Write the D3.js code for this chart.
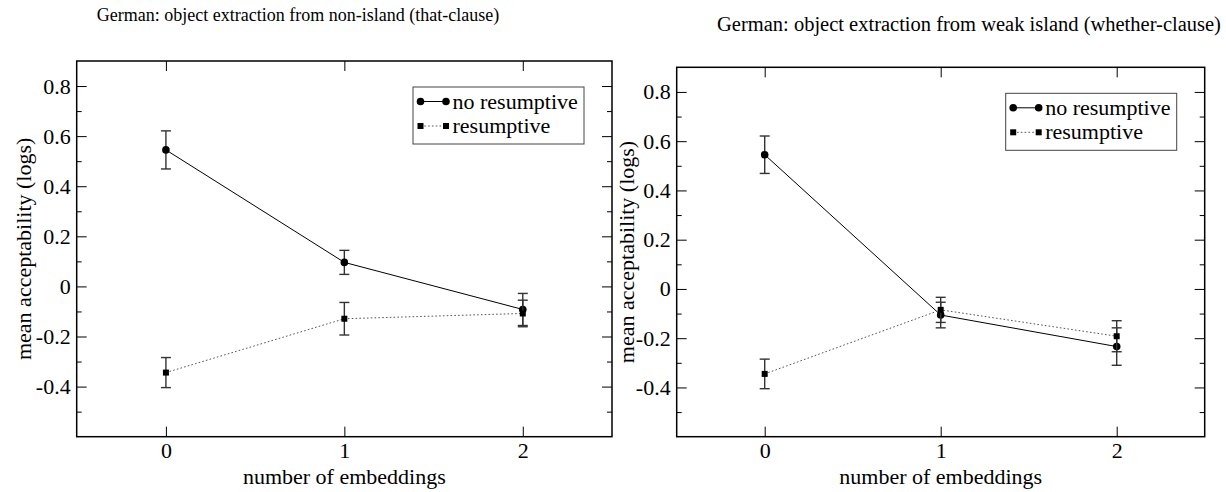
<!DOCTYPE html>
<html>
<head>
<meta charset="utf-8">
<script src="https://cdn.jsdelivr.net/npm/d3@7"></script>
<style>
  body { margin: 0; background: #fff; }
  svg text { font-family: "Liberation Serif", "Times New Roman", serif; fill: #000; }
</style>
</head>
<body>
<svg id="chart" width="1226" height="492"></svg>
<script>
"use strict";

// ---- data ----
var embeddings = [0, 1, 2];
var xTickValues = [0, 1, 2];
var yTickValues = [-0.4, -0.2, 0, 0.2, 0.4, 0.6, 0.8];
var yMinorValues = [-0.5, -0.3, -0.1, 0.1, 0.3, 0.5, 0.7];
var yTickLabels = ["-0.4", "-0.2", "0", "0.2", "0.4", "0.6", "0.8"];
var seriesNames = ["no resumptive", "resumptive"];

var titleLeft = "German: object extraction from non-island (that-clause)";
var noResLeft = [0.545, 0.096, -0.092];
var noResLeftErr = [0.076, 0.048, 0.064];
var resLeft = [-0.344, -0.129, -0.108];
var resLeftErr = [0.060, 0.065, 0.053];

var titleRight = "German: object extraction from weak island (whether-clause)";
var noResRight = [0.545, -0.106, -0.234];
var noResRightErr = [0.076, 0.052, 0.076];
var resRight = [-0.345, -0.085, -0.192];
var resRightErr = [0.060, 0.051, 0.063];

// ---- layout ----
var svg = d3.select("#chart");
var fontSize = 22;
var serif = '"Liberation Serif", "Times New Roman", serif';

var panels = [
	{ title: titleLeft, titleX: 298, titleY: 21, titleSize: 18,
	  left: 76.7, right: 612, top: 61, bottom: 436.7, ylabelX: 31,
	  values: [noResLeft, resLeft], errors: [noResLeftErr, resLeftErr] },
	{ title: titleRight, titleX: 969, titleY: 31, titleSize: 20.5,
	  left: 676.7, right: 1204.7, top: 67.3, bottom: 436.7, ylabelX: 634,
	  values: [noResRight, resRight], errors: [noResRightErr, resRightErr] }
];

var styles = [
	{ stroke: "#000", dash: null, symbol: "circle" },
	{ stroke: "#555", dash: "1.6,2.2", symbol: "square" }
];

panels.forEach(drawPanel);

function drawPanel(p){
	var x = d3.scaleLinear().domain([-0.5, 2.5]).range([p.left, p.right]);
	var y = d3.scaleLinear().domain([-0.6, 0.9]).range([p.bottom, p.top]);
	var g = svg.append("g");

	// title
	g.append("text")
		.attr("x", p.titleX).attr("y", p.titleY)
		.attr("text-anchor", "middle")
		.style("font-family", serif)
		.style("font-size", p.titleSize + "px")
		.text(p.title);

	// axes (ticks point inward, mirrored on top/right)
	function styleAxis(sel){
		sel.select(".domain").remove();
		sel.selectAll("line").attr("stroke", "#000").attr("stroke-width", 1);
		sel.selectAll("text")
			.style("font-family", serif)
			.style("font-size", fontSize + "px")
			.attr("fill", "#000");
	}

	g.append("g").attr("transform", "translate(" + p.left + ",0)")
		.call(d3.axisLeft(y).tickValues(yTickValues).tickSize(-10).tickSizeOuter(0)
			.tickPadding(6).tickFormat(function(d, i){ return yTickLabels[i]; }))
		.call(styleAxis);
	g.append("g").attr("transform", "translate(" + p.left + ",0)")
		.call(d3.axisLeft(y).tickValues(yMinorValues).tickSize(-5).tickSizeOuter(0).tickFormat(""))
		.call(styleAxis);
	g.append("g").attr("transform", "translate(" + p.right + ",0)")
		.call(d3.axisRight(y).tickValues(yTickValues).tickSize(-10).tickSizeOuter(0).tickFormat(""))
		.call(styleAxis);
	g.append("g").attr("transform", "translate(" + p.right + ",0)")
		.call(d3.axisRight(y).tickValues(yMinorValues).tickSize(-5).tickSizeOuter(0).tickFormat(""))
		.call(styleAxis);
	g.append("g").attr("transform", "translate(0," + p.bottom + ")")
		.call(d3.axisBottom(x).tickValues(xTickValues).tickSize(-10).tickSizeOuter(0)
			.tickPadding(6).tickFormat(d3.format("d")))
		.call(styleAxis);
	g.append("g").attr("transform", "translate(0," + p.top + ")")
		.call(d3.axisTop(x).tickValues(xTickValues).tickSize(-10).tickSizeOuter(0).tickFormat(""))
		.call(styleAxis);

	// frame
	g.append("rect")
		.attr("x", p.left).attr("y", p.top)
		.attr("width", p.right - p.left).attr("height", p.bottom - p.top)
		.attr("fill", "none").attr("stroke", "#000").attr("stroke-width", 1.5);

	// axis labels
	g.append("text")
		.attr("x", (p.left + p.right) / 2).attr("y", 484)
		.attr("text-anchor", "middle")
		.style("font-family", serif)
		.style("font-size", fontSize + "px")
		.text("number of embeddings");
	g.append("text")
		.attr("transform", "translate(" + p.ylabelX + "," + ((p.top + p.bottom) / 2) + ") rotate(-90)")
		.attr("text-anchor", "middle")
		.style("font-family", serif)
		.style("font-size", fontSize + "px")
		.text("mean acceptability (logs)");

	// series
	var line = d3.line()
		.x(function(d){ return x(d.x); })
		.y(function(d){ return y(d.v); });

	p.values.forEach(function(vals, si){
		var pts = embeddings.map(function(e, i){
			return { x: e, v: vals[i], err: p.errors[si][i] };
		});
		var st = styles[si];

		g.append("path").datum(pts)
			.attr("d", line)
			.attr("fill", "none")
			.attr("stroke", st.stroke)
			.attr("stroke-width", 1)
			.attr("stroke-dasharray", st.dash);

		// error bars
		var eb = g.append("g").selectAll("g").data(pts).enter().append("g")
			.attr("stroke", "#333").attr("stroke-width", 1.4);
		eb.append("line")
			.attr("x1", function(d){ return x(d.x); })
			.attr("x2", function(d){ return x(d.x); })
			.attr("y1", function(d){ return y(d.v + d.err); })
			.attr("y2", function(d){ return y(d.v - d.err); });
		eb.append("line")
			.attr("x1", function(d){ return x(d.x) - 5; })
			.attr("x2", function(d){ return x(d.x) + 5; })
			.attr("y1", function(d){ return y(d.v + d.err); })
			.attr("y2", function(d){ return y(d.v + d.err); });
		eb.append("line")
			.attr("x1", function(d){ return x(d.x) - 5; })
			.attr("x2", function(d){ return x(d.x) + 5; })
			.attr("y1", function(d){ return y(d.v - d.err); })
			.attr("y2", function(d){ return y(d.v - d.err); });

		drawSymbols(g, pts, st.symbol, function(d){ return x(d.x); }, function(d){ return y(d.v); });
	});

	// legend
	var lx = p.right - 28 - 171, ly = p.top + 26;
	g.append("rect")
		.attr("x", lx).attr("y", ly).attr("width", 171).attr("height", 57)
		.attr("fill", "#fff").attr("stroke", "#444").attr("stroke-width", 1);
	seriesNames.forEach(function(name, si){
		var cy = ly + 14.5 + si * 24.5;
		var st = styles[si];
		g.append("line")
			.attr("x1", lx + 7.5).attr("x2", lx + 33)
			.attr("y1", cy).attr("y2", cy)
			.attr("stroke", st.stroke).attr("stroke-width", 1)
			.attr("stroke-dasharray", st.dash);
		drawSymbols(g, [lx + 7.5, lx + 33], st.symbol,
			function(d){ return d; }, function(){ return cy; });
		g.append("text")
			.attr("x", lx + 39.5).attr("y", cy + 7)
			.style("font-family", serif)
			.style("font-size", fontSize + "px")
			.text(name);
	});
}

function drawSymbols(g, data, kind, fx, fy){
	if(kind == "circle"){
		g.append("g").selectAll("circle").data(data).enter().append("circle")
			.attr("cx", fx).attr("cy", fy).attr("r", 3.8).attr("fill", "#000");
	} else {
		g.append("g").selectAll("rect").data(data).enter().append("rect")
			.attr("x", function(d){ return fx(d) - 3; })
			.attr("y", function(d){ return fy(d) - 3; })
			.attr("width", 6).attr("height", 6).attr("fill", "#000");
	}
}
</script>
</body>
</html>
